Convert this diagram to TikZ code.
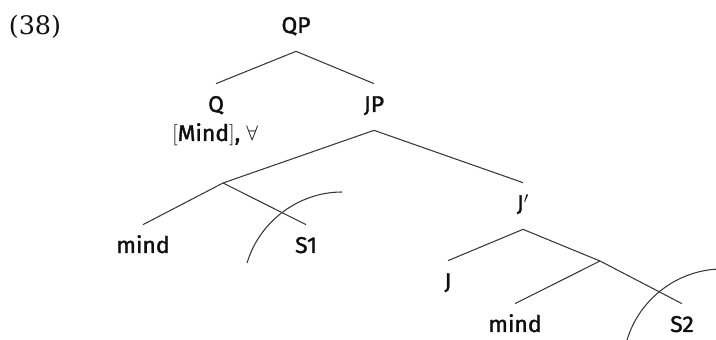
\documentclass[tikz,border=0pt]{standalone}
\usepackage{fontspec}
\newfontfamily\treefont{Fira Sans}[FakeBold=1.5]
\newfontfamily\exfont{DejaVu Serif}
\usetikzlibrary{calc}
\definecolor{branchgray}{RGB}{55,55,55}
\definecolor{labeldark}{RGB}{15,15,15}

\begin{document}
\begin{tikzpicture}[x=0.02cm,y=-0.02cm,
  cat/.style={font=\treefont\fontsize{13}{15}\selectfont,text=labeldark,anchor=base,
    text height=0.32cm,text depth=0.12cm,inner xsep=0pt,inner ysep=0.24cm},
  feat/.style={font=\treefont\fontsize{13}{15}\selectfont,text=labeldark,anchor=base,inner sep=0pt},
  branch/.style={branchgray,line width=0.6pt},
  bound/.style={branchgray,line width=0.6pt}]
  % Viewport 716x340, y runs downward
  \useasboundingbox (0,0) rectangle (716,340);
  \clip (0,0) rectangle (716,340);

  % Example number
  \node[font=\exfont\fontsize{14.5}{17}\selectfont,text=labeldark,anchor=base,inner sep=0pt] (exnum) at (35,35) {(38)};

  % --- Labels ---
  \node[cat] (QP) at (296,33) {QP};
  \node[cat] (Q) at (216,112) {Q};
  \node[feat] (Qfeat) at (215,141) {$[$Mind$]$, $\forall$};
  \node[cat] (JP) at (374,112) {JP};
  \node[cat] (mindA) at (143,253) {mind};
  \node[cat] (SA) at (306,253) {S1};
  \node[cat] (Jbar) at (523,211) {J$'$};
  \node[cat] (J) at (448,289) {J};
  \node[cat] (mindB) at (515,332) {mind};
  \node[cat] (SB) at (682,332) {S2};

  % Unlabelled branching points
  \coordinate (X) at (223,183);
  \coordinate (Y) at (600,261);

  % --- Branches ---
  \draw[branch] (QP.south) -- (Q.north);
  \draw[branch] (QP.south) -- (JP.north);
  \draw[branch] (JP.south) -- (X);
  \draw[branch] (JP.south) -- (Jbar.north);
  \draw[branch] (X) -- (mindA.north);
  \draw[branch] (X) -- (SA.north);
  \draw[branch] (Jbar.south) -- (J.north);
  \draw[branch] (Jbar.south) -- (Y);
  \draw[branch] (Y) -- (mindB.north);
  \draw[branch] (Y) -- (SB.north);

  % --- Boundary arcs ---
  \draw[bound] (247,263) .. controls (260,220) and (300,192) .. (342,192);
  \draw[bound] (627,340) .. controls (640,297) and (680,269) .. (722,269);

\end{tikzpicture}
\end{document}
